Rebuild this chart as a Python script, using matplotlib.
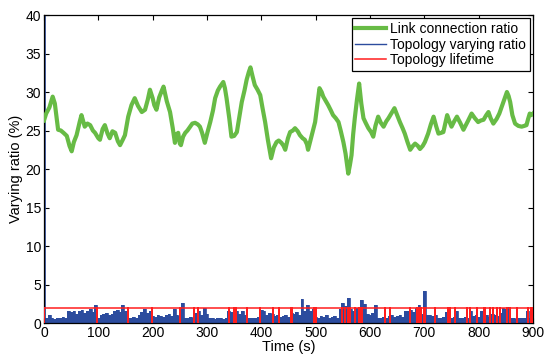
import numpy as np
import matplotlib
matplotlib.use("Agg")
import matplotlib.pyplot as plt

plt.rcParams["font.family"] = ["Liberation Sans", "DejaVu Sans"]

# link connection ratio (%)
green_t = [0, 4, 10, 16, 20, 26, 31, 36, 42, 47, 51, 55, 60, 66, 69, 75, 80, 85, 90, 94,
           100, 103, 108, 112, 117, 121, 126, 131, 136, 140, 145, 149, 155, 161, 167, 173,
           180, 186, 191, 195, 200, 203, 207, 212, 217, 220, 226, 232, 237, 241, 244, 247,
           250, 252, 256, 260, 264, 269, 273, 278, 283, 287, 291, 296, 301, 306, 311, 315,
           320, 324, 330, 333, 336, 341, 345, 350, 355, 359, 364, 369, 373, 377, 380, 384,
           388, 393, 398, 402, 407, 412, 418, 423, 428, 432, 437, 441, 444, 449, 453, 458,
           462, 467, 471, 476, 480, 484, 486, 490, 493, 499, 503, 507, 511, 514, 519, 523,
           528, 532, 537, 542, 546, 551, 555, 560, 563, 566, 569, 572, 576, 580, 584, 588,
           592, 597, 602, 606, 610, 615, 620, 625, 630, 634, 640, 645, 650, 655, 660, 664,
           669, 674, 679, 683, 688, 692, 697, 701, 707, 712, 717, 722, 726, 731, 735, 742,
           746, 750, 755, 760, 766, 772, 780, 787, 793, 799, 804, 809, 814, 818, 822, 827,
           833, 838, 845, 852, 855, 858, 862, 867, 873, 879, 884, 888, 891, 894, 897, 900]
green_v = [26.3, 27.2, 28.0, 29.4, 28.5, 25.1, 25.0, 24.7, 24.3, 23.0, 22.3, 23.5, 24.4, 26.2,
           27.0, 25.5, 25.9, 25.7, 25.0, 24.7, 24.0, 23.8, 25.2, 25.7, 24.6, 24.0, 24.9, 24.7,
           23.6, 23.1, 23.8, 24.4, 26.8, 28.3, 29.2, 28.2, 27.4, 27.7, 29.0, 30.3, 29.2, 28.3,
           27.7, 29.3, 30.2, 30.7, 28.8, 27.4, 25.3, 23.4, 24.5, 24.7, 23.3, 23.1, 24.2, 24.7,
           25.0, 25.5, 25.9, 26.0, 25.8, 25.5, 24.7, 23.4, 24.8, 26.1, 27.6, 29.2, 30.2, 30.7,
           31.3, 30.5, 29.2, 26.6, 24.2, 24.3, 24.8, 26.5, 28.7, 30.2, 31.6, 32.6, 33.2, 32.0,
           30.9, 30.3, 29.6, 28.0, 26.1, 23.8, 21.4, 22.8, 23.5, 23.7, 23.4, 23.0, 22.5, 24.0,
           24.8, 25.0, 25.3, 24.9, 24.4, 24.0, 23.8, 23.2, 22.5, 23.6, 24.4, 26.1, 28.3, 30.5,
           30.0, 29.4, 28.8, 28.3, 27.6, 27.0, 26.6, 26.1, 25.0, 23.5, 22.0, 19.4, 20.5, 21.8,
           24.5, 26.6, 29.0, 31.1, 28.5, 26.6, 26.0, 25.3, 24.8, 24.2, 25.6, 26.8, 26.0, 25.5,
           26.2, 26.6, 27.3, 27.9, 27.0, 26.1, 25.3, 24.6, 23.5, 22.5, 23.0, 23.3, 23.0, 22.6,
           23.0, 23.5, 24.6, 25.8, 26.8, 25.5, 24.6, 24.7, 24.8, 27.0, 26.2, 25.5, 26.2, 26.8,
           26.0, 25.1, 26.2, 27.2, 26.6, 26.1, 26.3, 26.4, 27.0, 27.4, 26.6, 25.9, 26.5, 27.2,
           28.6, 30.0, 29.5, 28.7, 27.0, 25.9, 25.6, 25.5, 25.6, 25.7, 26.5, 27.2, 27.0, 27.2]

# topology varying ratio (%), one value per 5 s
blue_v = [100, 0.7, 1.0, 0.6, 0.5, 0.7, 0.6, 0.8, 0.6, 1.5, 1.4, 1.6, 1.2, 1.5, 1.7, 1.3,
          1.6, 1.8, 1.4, 2.3, 0.7, 1.1, 1.2, 1.3, 1.1, 1.2, 1.5, 1.7, 1.4, 2.4, 1.6, 0.7,
          0.6, 0.8, 0.7, 1.0, 1.4, 1.8, 1.3, 1.5, 0.9, 0.8, 1.0, 0.9, 0.8, 1.0, 1.2, 0.9,
          1.8, 1.1, 0.9, 2.6, 0.7, 0.6, 0.8, 0.7, 1.3, 1.6, 1.1, 1.9, 1.2, 0.7, 0.6, 0.5,
          0.7, 0.6, 0.5, 0.6, 1.6, 1.4, 1.0, 1.6, 1.2, 1.5, 1.0, 0.7, 0.6, 0.7, 0.6, 0.8,
          1.7, 1.6, 1.0, 1.3, 1.2, 0.9, 1.0, 0.8, 0.9, 1.1, 0.8, 1.3, 1.2, 1.4, 1.1, 3.1,
          1.5, 2.4, 1.6, 1.8, 0.8, 0.7, 0.9, 0.8, 1.0, 0.7, 0.8, 0.9, 0.7, 1.8, 2.6, 2.2,
          3.3, 1.8, 1.6, 2.0, 1.7, 3.0, 2.5, 1.2, 1.0, 1.3, 2.4, 0.7, 0.6, 0.8, 0.7, 0.9,
          1.0, 0.8, 0.9, 1.1, 0.8, 1.6, 1.5, 1.7, 1.4, 2.0, 2.3, 1.2, 4.1, 1.0, 1.1, 0.9,
          1.0, 0.7, 0.6, 0.8, 1.4, 0.7, 0.6, 0.8, 1.5, 0.7, 0.6, 0.8, 0.7, 1.6, 0.9, 1.0,
          0.8, 1.6, 0.9, 1.0, 0.8, 1.2, 1.1, 0.9, 1.3, 2.0, 1.8, 2.1, 0.7, 0.6, 0.5, 0.7,
          0.6, 0.6, 1.6, 0.7, 0.6]
blue_step = 5

# topology lifetime: level and the instants (s) where the topology changed
life_level = 2.0
change_t = [0, 97, 154, 199, 251, 276, 283, 340, 349, 354, 373, 398, 421, 432, 454, 457,
            497, 501, 548, 554, 560, 563, 572, 580, 583, 585, 628, 637, 674, 687, 690, 694,
            699, 701, 720, 744, 747, 756, 778, 784, 796, 809, 812, 821, 827, 833, 839, 852,
            858, 870, 891, 896, 900]

GREEN = "#67bb45"
BLUE = "#2c4c9e"
RED = "#ff1e1e"

blue_t = np.arange(len(blue_v)) * blue_step

# red signal: flat at the lifetime level, dropping to zero at each change
rx, ry = [0], [life_level]
for c in change_t:
    rx += [c, c, c]
    ry += [life_level, 0, life_level]
rx.append(900); ry.append(life_level)

fig = plt.figure(figsize=(5.45, 3.55), dpi=100)
ax = fig.add_axes([0.0807, 0.0901, 0.8973, 0.8676])

ax.plot(green_t, green_v, color=GREEN, lw=3.0, solid_joinstyle="round",
        label="Link connection ratio", zorder=4)
ax.fill_between(blue_t, 0, blue_v, step="mid", color=BLUE, lw=0, zorder=2)
ax.step(blue_t, blue_v, where="mid", color=BLUE, lw=0.6, zorder=2,
        label="Topology varying ratio")
ax.plot(rx, ry, color=RED, lw=1.1, label="Topology lifetime", zorder=3)

ax.set_xlim(0, 900)
ax.set_ylim(0, 40)
ax.set_xticks(np.arange(0, 901, 100))
ax.set_yticks(np.arange(0, 41, 5))
ax.tick_params(direction="in", top=True, right=True, labelsize=10, length=3.5,
               width=0.8, pad=2)
for s in ax.spines.values():
    s.set_linewidth(0.9)
ax.set_xlabel("Time (s)", fontsize=10.5, labelpad=0)
ax.set_ylabel("Varying ratio (%)", fontsize=10.5, labelpad=2)

leg = ax.legend(loc="upper right", fontsize=10, frameon=True, fancybox=False,
                edgecolor="black", framealpha=1, borderpad=0.25, labelspacing=0.12,
                handlelength=2.2, handletextpad=0.3, borderaxespad=0.25)
leg.get_frame().set_linewidth(0.9)
leg.get_lines()[1].set_linewidth(1.0)

fig.savefig("out.png", dpi=100)
